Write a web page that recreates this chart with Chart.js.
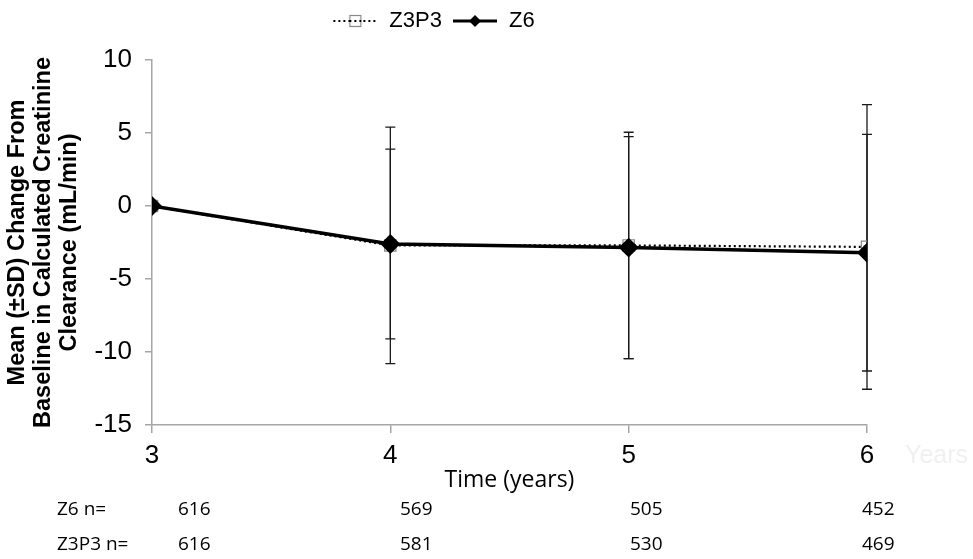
<!DOCTYPE html>
<html>
<head>
<meta charset="utf-8">
<script src="https://cdn.jsdelivr.net/npm/chart.js@4.4.1/dist/chart.umd.min.js"></script>
<style>
    body { margin: 0; background: #fff; }
    #wrap { position: relative; width: 973px; height: 559px; }
    #chart { position: absolute; left: 0; top: 0; }
    .cell { position: absolute; font-family: "Open Sans", sans-serif; font-size: 19px; color: #000; line-height: 22px; white-space: nowrap; }
    .ghost { position: absolute; font-family: "Liberation Sans", Arial, sans-serif; font-size: 25px; color: #f0f0f0; }
</style>
</head>
<body>
<div id="wrap">
    <canvas id="chart" width="973" height="559"></canvas>
    <div class="ghost" style="left: 905px; top: 440px;">Years</div>
</div>
<script>
// time points (years)
const years = [3, 4, 5, 6];

// mean change from baseline and SD, per arm
const z3p3Mean = [0, -2.7, -2.7, -2.8];
const z3p3Sd = [0, 8.1, 7.75, 9.75];
const z6Mean = [0, -2.6, -2.85, -3.2];
const z6Sd = [0, 6.5, 7.6, 8.1];

// patients at each time point
const z6N = [616, 569, 505, 452];
const z3p3N = [616, 581, 530, 469];

const rowLabels = ['Z6 n=', 'Z3P3 n='];
const rowCounts = [z6N, z3p3N];
const colLefts = [178, 400, 630, 862];
const rowTops = [497, 532];

function points(means) {
    return years.map((x, i) => ({x: x, y: means[i]}));
}

function makeIcon(draw) {
    const c = document.createElement('canvas');
    c.width = 46;
    c.height = 16;
    draw(c.getContext('2d'));
    return c;
}

const z3p3Icon = makeIcon(ctx => {
    ctx.strokeStyle = '#000';
    ctx.lineWidth = 2;
    ctx.setLineDash([2, 3]);
    ctx.beginPath();
    ctx.moveTo(1, 8);
    ctx.lineTo(45, 8);
    ctx.stroke();
    ctx.setLineDash([]);
    ctx.fillStyle = '#fff';
    ctx.fillRect(17, 2.5, 11, 11);
    ctx.strokeStyle = '#888';
    ctx.lineWidth = 1.2;
    ctx.strokeRect(17.5, 2.5, 11, 11);
    ctx.strokeStyle = '#000';
    ctx.lineWidth = 2;
    ctx.setLineDash([2, 3]);
    ctx.beginPath();
    ctx.moveTo(17, 8);
    ctx.lineTo(29, 8);
    ctx.stroke();
});

const z6Icon = makeIcon(ctx => {
    ctx.strokeStyle = '#000';
    ctx.lineWidth = 3;
    ctx.beginPath();
    ctx.moveTo(1, 8);
    ctx.lineTo(45, 8);
    ctx.stroke();
    ctx.fillStyle = '#000';
    ctx.beginPath();
    ctx.moveTo(23, 2);
    ctx.lineTo(29, 8);
    ctx.lineTo(23, 14);
    ctx.lineTo(17, 8);
    ctx.closePath();
    ctx.fill();
});

const sdByDataset = [z3p3Sd, z6Sd];
const meanByDataset = [z3p3Mean, z6Mean];

const errorBars = {
    id: 'errorBars',
    beforeDatasetsDraw(chart) {
        const ctx = chart.ctx;
        const xs = chart.scales.x;
        const ys = chart.scales.y;
        ctx.save();
        ctx.strokeStyle = '#1a1a1a';
        ctx.lineWidth = 1.3;
        sdByDataset.forEach((sds, d) => {
            sds.forEach((sd, i) => {
                if (!sd) return;
                const px = xs.getPixelForValue(years[i]);
                const hi = ys.getPixelForValue(meanByDataset[d][i] + sd);
                const lo = ys.getPixelForValue(meanByDataset[d][i] - sd);
                ctx.beginPath();
                ctx.moveTo(px, hi);
                ctx.lineTo(px, lo);
                ctx.moveTo(px - 5, hi);
                ctx.lineTo(px + 5, hi);
                ctx.moveTo(px - 5, lo);
                ctx.lineTo(px + 5, lo);
                ctx.stroke();
            });
        });
        ctx.restore();
    }
};

// make room between legend and plot
const legendGap = {
    id: 'legendGap',
    beforeInit(chart) {
        const fit = chart.legend.fit;
        chart.legend.fit = function () {
            fit.call(this);
            this.height = 60;
        };
    }
};

const axisGrey = '#a6a6a6';

new Chart(document.getElementById('chart'), {
    type: 'line',
    data: {
        datasets: [
            {
                label: 'Z3P3',
                data: points(z3p3Mean),
                borderColor: '#000',
                borderWidth: 2.2,
                borderDash: [2, 3],
                pointStyle: 'rect',
                pointRadius: 8,
                pointBackgroundColor: 'rgba(255,255,255,0)',
                pointBorderColor: '#888',
                pointBorderWidth: 1.2,
                order: 1
            },
            {
                label: 'Z6',
                data: points(z6Mean),
                borderColor: '#000',
                borderWidth: 3.5,
                pointStyle: 'rectRot',
                pointRadius: 7.5,
                pointBackgroundColor: '#000',
                pointBorderColor: '#000',
                order: 0
            }
        ]
    },
    options: {
        responsive: false,
        devicePixelRatio: 1,
        animation: false,
        layout: {
            padding: {top: 0, left: 0, right: 106, bottom: 64}
        },
        plugins: {
            tooltip: {enabled: false},
            legend: {
                position: 'top',
                labels: {
                    usePointStyle: true,
                    pointStyleWidth: 46,
                    padding: 10,
                    color: '#000',
                    font: {family: 'Liberation Sans, Arial, sans-serif', size: 22},
                    generateLabels: () => [
                        {text: 'Z3P3', pointStyle: z3p3Icon, fontColor: '#000', hidden: false, datasetIndex: 0, lineWidth: 0},
                        {text: 'Z6', pointStyle: z6Icon, fontColor: '#000', hidden: false, datasetIndex: 1, lineWidth: 0}
                    ]
                }
            }
        },
        scales: {
            x: {
                type: 'linear',
                min: 3,
                max: 6,
                afterFit: s => { s.height = 70; },
                border: {color: axisGrey, width: 1.5},
                grid: {display: true, drawOnChartArea: false, drawTicks: true, tickLength: 8, color: axisGrey, lineWidth: 1.5},
                ticks: {
                    stepSize: 1,
                    padding: 7,
                    color: '#000',
                    font: {family: 'Liberation Sans, Arial, sans-serif', size: 26}
                },
                title: {
                    display: true,
                    text: 'Time (years)',
                    color: '#000',
                    padding: {top: 0, bottom: 2},
                    font: {family: 'Open Sans, sans-serif', size: 23, lineHeight: '26px'}
                }
            },
            y: {
                min: -15,
                max: 10,
                afterFit: s => { s.width = 152; },
                border: {color: axisGrey, width: 1.5},
                grid: {display: true, drawOnChartArea: false, drawTicks: true, tickLength: 7, color: axisGrey, lineWidth: 1.5},
                ticks: {
                    stepSize: 5,
                    padding: 13,
                    color: '#000',
                    font: {family: 'Liberation Sans, Arial, sans-serif', size: 26}
                },
                title: {
                    display: true,
                    text: ['Mean (±SD) Change From', 'Baseline in Calculated Creatinine', 'Clearance (mL/min)'],
                    color: '#000',
                    padding: {top: 5, bottom: 0},
                    font: {family: 'Liberation Sans, Arial, sans-serif', size: 23.5, weight: 'bold', lineHeight: '26px'}
                }
            }
        }
    },
    plugins: [errorBars, legendGap]
});

// n= table under the axis
const wrap = document.getElementById('wrap');
rowLabels.forEach((label, r) => {
    const head = document.createElement('div');
    head.className = 'cell';
    head.style.left = '57px';
    head.style.top = rowTops[r] + 'px';
    head.textContent = label;
    wrap.appendChild(head);
    rowCounts[r].forEach((n, c) => {
        const cell = document.createElement('div');
        cell.className = 'cell';
        cell.style.left = colLefts[c] + 'px';
        cell.style.top = rowTops[r] + 'px';
        cell.textContent = n;
        wrap.appendChild(cell);
    });
});
</script>
</body>
</html>
